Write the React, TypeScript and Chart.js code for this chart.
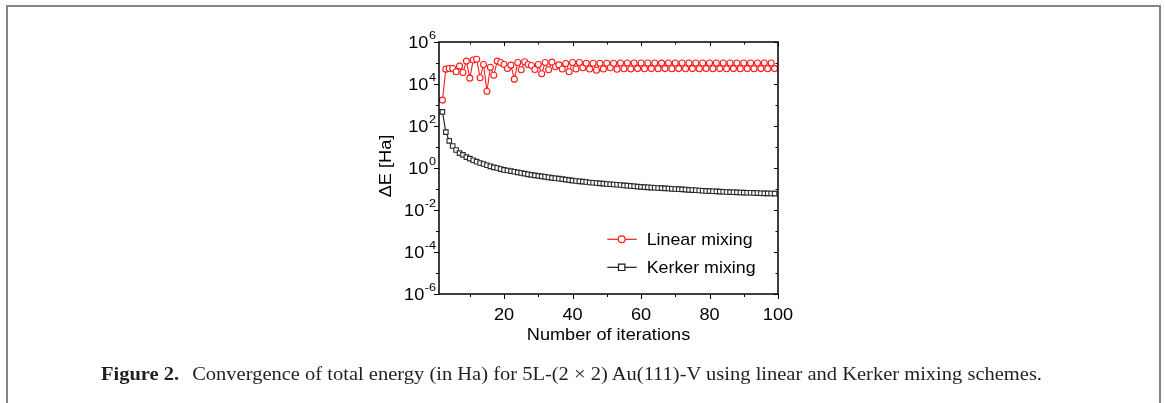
import React, { useEffect, useRef } from "react";
import { Chart, registerables } from "chart.js";

Chart.register(...registerables);

// ---------------- data ----------------
const iterations = [
  2, 3, 4, 5, 6, 7, 8, 9, 10, 11, 12, 13, 14, 15, 16, 17, 18, 19, 20,
  21, 22, 23, 24, 25, 26, 27, 28, 29, 30, 31, 32, 33, 34, 35, 36, 37, 38, 39, 40,
  41, 42, 43, 44, 45, 46, 47, 48, 49, 50, 51, 52, 53, 54, 55, 56, 57, 58, 59, 60,
  61, 62, 63, 64, 65, 66, 67, 68, 69, 70, 71, 72, 73, 74, 75, 76, 77, 78, 79, 80,
  81, 82, 83, 84, 85, 86, 87, 88, 89, 90, 91, 92, 93, 94, 95, 96, 97, 98, 99,
];

const linearMixing = [
  1.7e3, 5.1e4, 5.5e4, 5.5e4, 3.8e4, 7.1e4, 3.5e4, 1.23e5, 1.9e4, 1.4e5,
  1.5e5, 2.0e4, 8.5e4, 4.5e3, 6.3e4, 2.6e4, 1.23e5, 1.05e5, 8.5e4, 5.5e4,
  7.9e4, 1.7e4, 1.05e5, 4.8e4, 1.15e5, 8.5e4, 7.6e4, 4.9e4, 8.5e4, 3.1e4,
  1.05e5, 4.8e4, 1.1e5, 6.6e4, 8.1e4, 5.2e4, 9.5e4, 3.8e4, 1.05e5, 5.2e4,
  1.05e5, 5.9e4, 9.8e4, 5.2e4, 9.8e4, 4.5e4, 9.8e4, 5.2e4, 9.8e4, 5.9e4,
  9.8e4, 5.0e4, 1.0e5, 5.3e4, 1.0e5, 5.2e4, 1.0e5, 5.4e4, 1.0e5, 5.3e4,
  1.0e5, 5.4e4, 1.0e5, 5.3e4, 9.9e4, 5.4e4, 1.0e5, 5.3e4, 1.0e5, 5.4e4,
  1.0e5, 5.3e4, 1.0e5, 5.4e4, 1.0e5, 5.3e4, 1.0e5, 5.4e4, 1.0e5, 5.3e4,
  1.0e5, 5.4e4, 1.0e5, 5.3e4, 1.0e5, 5.4e4, 1.0e5, 5.3e4, 1.0e5, 5.4e4,
  1.0e5, 5.3e4, 1.0e5, 5.4e4, 1.0e5, 5.3e4, 1.0e5, 5.4e4,
];

const kerkerMixing = [
  470, 51, 19.5, 11.2, 7.2, 5.1, 4.2, 3.3, 2.8, 2.35,
  2.0, 1.74, 1.55, 1.35, 1.2, 1.07, 1.0, 0.89, 0.81, 0.76,
  0.71, 0.66, 0.62, 0.575, 0.54, 0.5, 0.47, 0.445, 0.42, 0.4,
  0.38, 0.36, 0.34, 0.325, 0.31, 0.295, 0.28, 0.265, 0.25, 0.24,
  0.232, 0.224, 0.216, 0.205, 0.199, 0.192, 0.186, 0.18, 0.174, 0.169,
  0.164, 0.159, 0.154, 0.148, 0.144, 0.14, 0.136, 0.13, 0.126, 0.123,
  0.12, 0.117, 0.115, 0.112, 0.11, 0.107, 0.105, 0.102, 0.1, 0.098,
  0.096, 0.094, 0.091, 0.089, 0.087, 0.085, 0.083, 0.081, 0.079, 0.078,
  0.077, 0.075, 0.074, 0.072, 0.071, 0.07, 0.069, 0.068, 0.067, 0.066,
  0.066, 0.065, 0.064, 0.063, 0.062, 0.062, 0.061, 0.06,
];

const seriesLabels = ["Linear mixing", "Kerker mixing"];
const xMajorTicks = [20, 40, 60, 80, 100];
const xMajorLabels = ["20", "40", "60", "80", "100"];
const xMinorTicks = [10, 30, 50, 70, 90];
const yMajorTicks = [1e-6, 1e-4, 1e-2, 1, 1e2, 1e4, 1e6];
const yMajorExponents = ["-6", "-4", "-2", "0", "2", "4", "6"];
const yMinorTicks = [1e-5, 1e-3, 1e-1, 1e1, 1e3, 1e5];
const xTitle = "Number of iterations";
const yTitle = "ΔE [Ha]";
const captionBold = "Figure 2.";
const captionText =
  "Convergence of total energy (in Ha) for 5L-(2 × 2) Au(111)-V using linear and Kerker mixing schemes.";

// ---------------- styles ----------------
const RED = "#ff1a1a";
const BLACK = "#1a1a1a";
const FONT = "'Liberation Sans', Arial, sans-serif";
const SX = 1.1;

function drawText(
  ctx: CanvasRenderingContext2D,
  s: string,
  x: number,
  y: number,
  size: number,
  align: "left" | "center" | "right"
): number {
  ctx.save();
  ctx.font = `${size}px ${FONT}`;
  const w = ctx.measureText(s).width * SX;
  const left = align === "left" ? x : align === "center" ? x - w / 2 : x - w;
  ctx.translate(left, y);
  ctx.scale(SX, 1);
  ctx.textAlign = "left";
  ctx.textBaseline = "alphabetic";
  ctx.fillStyle = "#000";
  ctx.fillText(s, 0, 0);
  ctx.restore();
  return w;
}

function textWidth(ctx: CanvasRenderingContext2D, s: string, size: number) {
  ctx.save();
  ctx.font = `${size}px ${FONT}`;
  const w = ctx.measureText(s).width * SX;
  ctx.restore();
  return w;
}

const framePlugin = {
  id: "framePlugin",
  afterDraw(chart: any) {
    const ctx: CanvasRenderingContext2D = chart.ctx;
    const { left, right, top, bottom } = chart.chartArea;
    const xs = chart.scales.x;
    const ys = chart.scales.y;
    ctx.save();
    // frame
    ctx.strokeStyle = "#000";
    ctx.lineWidth = 1.5;
    ctx.strokeRect(left, top, right - left, bottom - top);

    ctx.lineWidth = 1;
    ctx.beginPath();
    const tick = (x1: number, y1: number, x2: number, y2: number) => {
      ctx.moveTo(x1, y1);
      ctx.lineTo(x2, y2);
    };
    xMajorTicks.forEach((v) => {
      const px = Math.round(xs.getPixelForValue(v)) + 0.5;
      tick(px, bottom, px, bottom + 5);
      tick(px, top, px, top + 4);
    });
    xMinorTicks.forEach((v) => {
      const px = Math.round(xs.getPixelForValue(v)) + 0.5;
      tick(px, bottom, px, bottom + 3);
      tick(px, top, px, top + 2.5);
    });
    yMajorTicks.forEach((v) => {
      const py = Math.round(ys.getPixelForValue(v)) + 0.5;
      tick(left - 5, py, left, py);
      tick(right - 4, py, right, py);
    });
    yMinorTicks.forEach((v) => {
      const py = Math.round(ys.getPixelForValue(v)) + 0.5;
      tick(left - 3, py, left, py);
      tick(right - 2.5, py, right, py);
    });
    ctx.stroke();

    // x tick labels
    xMajorTicks.forEach((v, i) => {
      drawText(ctx, xMajorLabels[i], xs.getPixelForValue(v), bottom + 26, 16.5, "center");
    });
    // y tick labels 10^n
    yMajorTicks.forEach((v, i) => {
      const py = ys.getPixelForValue(v);
      const ew = textWidth(ctx, yMajorExponents[i], 11.5);
      const endX = left - 3;
      drawText(ctx, yMajorExponents[i], endX, py - 2.8, 11.5, "right");
      drawText(ctx, "10", endX - ew - 0.5, py + 5.9, 16.5, "right");
    });
    // x title
    drawText(ctx, xTitle, (left + right) / 2, bottom + 45.5, 16.5, "center");
    // y title
    ctx.save();
    ctx.translate(left - 54, (top + bottom) / 2 - 2);
    ctx.rotate(-Math.PI / 2);
    drawText(ctx, yTitle, 0, 6, 16.5, "center");
    ctx.restore();

    // legend
    const legendRows = [
      { y: top + 197.3, color: RED, style: "circle" },
      { y: top + 225.3, color: BLACK, style: "rect" },
    ];
    legendRows.forEach((row, i) => {
      const x0 = left + 168.3;
      const x1 = left + 197.7;
      const cx = left + 182.7;
      ctx.strokeStyle = row.color;
      ctx.lineWidth = 1.2;
      ctx.beginPath();
      ctx.moveTo(x0, row.y);
      ctx.lineTo(x1, row.y);
      ctx.stroke();
      ctx.fillStyle = "#fff";
      ctx.beginPath();
      if (row.style === "circle") {
        ctx.arc(cx, row.y, 3.4, 0, Math.PI * 2);
      } else {
        ctx.rect(cx - 3.2, row.y - 3.2, 6.4, 6.4);
      }
      ctx.fill();
      ctx.stroke();
      drawText(ctx, seriesLabels[i], left + 207.7, row.y + 5.9, 16.2, "left");
    });
    ctx.restore();
  },
};

function ChartCanvas() {
  const ref = useRef<HTMLCanvasElement | null>(null);
  useEffect(() => {
    if (!ref.current) return;
    const chart = new Chart(ref.current, {
      type: "line",
      data: {
        datasets: [
          {
            label: seriesLabels[0],
            data: iterations.map((x, i) => ({ x, y: linearMixing[i] })),
            borderColor: RED,
            backgroundColor: "#ffffff",
            borderWidth: 1.1,
            pointStyle: "circle",
            pointRadius: 3,
            pointBorderWidth: 1.1,
            pointBorderColor: RED,
            pointBackgroundColor: "#ffffff",
            tension: 0,
          },
          {
            label: seriesLabels[1],
            data: iterations.map((x, i) => ({ x, y: kerkerMixing[i] })),
            borderColor: BLACK,
            backgroundColor: "#ffffff",
            borderWidth: 1.1,
            pointStyle: "rect",
            pointRadius: 3.2,
            pointBorderWidth: 1.1,
            pointBorderColor: "#2a2a2a",
            pointBackgroundColor: "#ffffff",
            tension: 0,
          },
        ],
      },
      options: {
        responsive: false,
        animation: false,
        events: [],
        layout: { padding: { left: 439, right: 387, top: 42, bottom: 109 } },
        plugins: { legend: { display: false }, tooltip: { enabled: false } },
        scales: {
          x: { type: "linear", min: 1, max: 100, display: false },
          y: { type: "logarithmic", min: 1e-6, max: 1e6, display: false },
        },
      },
      plugins: [framePlugin],
    } as any);
    return () => chart.destroy();
  }, []);
  return (
    <canvas
      ref={ref}
      width={1165}
      height={403}
      style={{ position: "absolute", left: 0, top: 0, width: 1165, height: 403 }}
    />
  );
}

export default function App() {
  const capRef = useRef<HTMLDivElement | null>(null);
  useEffect(() => {
    const el = capRef.current;
    if (!el) return;
    el.style.transform = "none";
    const w = el.getBoundingClientRect().width;
    if (w > 0) el.style.transform = `scaleX(${941 / w})`;
  }, []);
  return (
    <div
      style={{
        position: "absolute",
        left: 0,
        top: 0,
        width: 1165,
        height: 403,
        overflow: "hidden",
        background: "#fff",
      }}
    >
      <div
        style={{
          position: "absolute",
          left: 6,
          top: 5,
          width: 1155,
          height: 500,
          boxSizing: "border-box",
          border: "2px solid #858585",
          borderBottom: "none",
        }}
      />
      <ChartCanvas />
      <div
        ref={capRef}
        style={{
          position: "absolute",
          left: 101,
          top: 363,
          whiteSpace: "nowrap",
          fontFamily: "'Liberation Serif', 'Times New Roman', serif",
          fontSize: 19,
          lineHeight: "21px",
          color: "#231f20",
          transformOrigin: "0 0",
          display: "inline-block",
        }}
      >
        <span style={{ fontWeight: "bold" }}>{captionBold}</span>
        <span style={{ marginLeft: 12 }}>{captionText}</span>
      </div>
    </div>
  );
}
